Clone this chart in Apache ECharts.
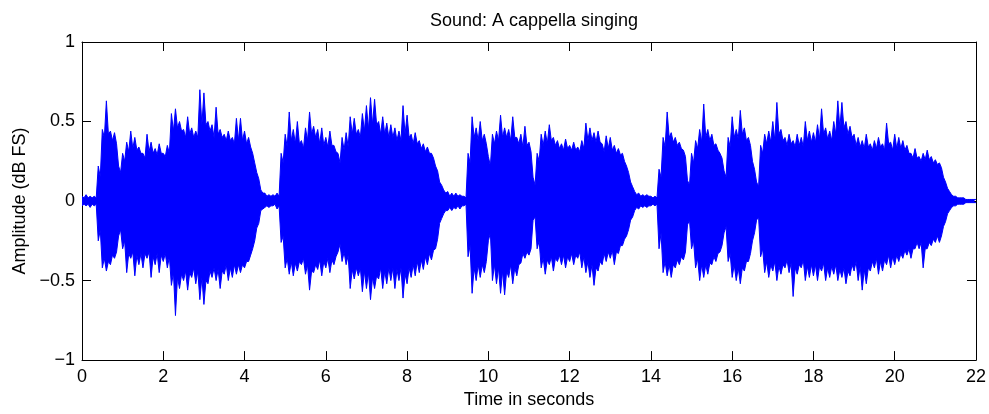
<!DOCTYPE html>
<html><head><meta charset="utf-8">
<script src="https://cdn.jsdelivr.net/npm/echarts@6/dist/echarts.min.js"></script>
<style>html,body{margin:0;padding:0;background:#fff}#c{width:989px;height:414px}</style>
</head><body><div id="c"></div>
<script>
const TITLE = 'Sound: A cappella singing';
const X_NAME = 'Time in seconds';
const Y_NAME = 'Amplitude (dB FS)';
const X_RANGE = [0, 22];
const X_TICK_STEP = 2;
const Y_RANGE = [-1, 1];
const Y_TICK_STEP = 0.5;
const T_START = 0;
const T_STEP = 0.1;
// spike tops (positive side), one value every 0.1 s
const peakUpper = [
.03,.04,.03,.03,.22,.45,.63,.44,.43,.22,
.30,.37,.44,.40,.34,.30,.42,.37,.33,.36,
.30,.35,.55,.58,.50,.45,.53,.46,.44,.70,
.68,.50,.48,.59,.45,.42,.44,.40,.52,.52,
.44,.40,.30,.18,.07,.05,.04,.04,.05,.30,
.42,.56,.45,.50,.38,.46,.56,.47,.45,.46,
.40,.44,.35,.30,.40,.43,.53,.52,.45,.55,
.60,.65,.64,.50,.53,.49,.48,.46,.44,.60,
.54,.42,.43,.38,.36,.34,.30,.22,.12,.07,
.06,.05,.05,.04,.03,.30,.53,.46,.50,.42,
.28,.42,.44,.54,.46,.45,.53,.40,.42,.47,
.37,.15,.30,.42,.44,.48,.40,.38,.36,.39,
.35,.37,.34,.38,.49,.46,.43,.44,.36,.41,
.40,.35,.33,.30,.22,.12,.06,.05,.04,.04,
.03,.03,.20,.40,.56,.43,.40,.37,.32,.13,
.30,.38,.45,.61,.45,.42,.36,.30,.19,.40,
.53,.45,.57,.46,.40,.25,.12,.35,.42,.44,
.50,.62,.45,.40,.42,.38,.42,.40,.50,.44,
.43,.48,.58,.46,.44,.50,.63,.62,.50,.47,
.42,.40,.38,.42,.36,.38,.40,.36,.49,.37,
.42,.40,.38,.35,.30,.33,.28,.30,.32,.28,
.26,.24,.15,.08,.04,.03,.02,.02,.01,.01,
.01
];
// dense part of the signal (positive side), one value every 0.1 s
const coreUpper = [
.02,.02,.02,.02,.15,.40,.42,.38,.36,.18,
.25,.31,.33,.32,.30,.27,.31,.30,.29,.30,
.28,.30,.44,.46,.44,.40,.42,.40,.40,.48,
.48,.44,.40,.42,.40,.38,.38,.36,.38,.38,
.36,.34,.24,.14,.05,.03,.03,.03,.03,.24,
.34,.38,.36,.36,.33,.38,.42,.40,.36,.35,
.34,.35,.31,.24,.32,.34,.42,.42,.40,.44,
.45,.48,.48,.42,.42,.40,.40,.38,.38,.42,
.40,.36,.36,.33,.31,.30,.27,.19,.10,.05,
.03,.03,.03,.03,.02,.24,.40,.38,.38,.36,
.22,.36,.38,.40,.40,.38,.40,.36,.34,.35,
.31,.10,.25,.35,.36,.38,.35,.33,.32,.33,
.32,.32,.31,.33,.38,.38,.37,.37,.31,.33,
.32,.30,.29,.25,.18,.09,.04,.03,.03,.03,
.02,.02,.15,.34,.40,.37,.35,.33,.28,.10,
.24,.33,.37,.40,.38,.35,.32,.27,.15,.34,
.40,.39,.42,.38,.35,.20,.09,.30,.36,.37,
.38,.42,.38,.35,.36,.34,.35,.34,.38,.37,
.37,.39,.42,.39,.38,.42,.46,.46,.42,.40,
.35,.34,.33,.34,.32,.33,.34,.32,.36,.32,
.33,.33,.32,.30,.27,.27,.25,.26,.26,.24,
.23,.21,.12,.06,.03,.02,.02,.01,.01,.01,
.01
];
// spike bottoms (negative side), one value every 0.1 s
const peakLower = [
-.03,-.03,-.04,-.03,-.25,-.42,-.44,-.40,-.36,-.22,
-.30,-.45,-.36,-.47,-.40,-.42,-.36,-.48,-.40,-.45,
-.38,-.42,-.53,-.72,-.55,-.50,-.56,-.48,-.52,-.62,
-.65,-.52,-.48,-.50,-.55,-.46,-.50,-.48,-.46,-.45,
-.42,-.38,-.30,-.17,-.06,-.04,-.04,-.03,-.05,-.26,
-.42,-.46,-.47,-.44,-.40,-.46,-.56,-.45,-.43,-.47,
-.42,-.45,-.40,-.32,-.38,-.40,-.55,-.49,-.47,-.57,
-.55,-.62,-.55,-.49,-.55,-.52,-.50,-.55,-.50,-.61,
-.52,-.48,-.47,-.45,-.43,-.40,-.37,-.30,-.14,-.08,
-.06,-.06,-.05,-.05,-.03,-.35,-.58,-.50,-.48,-.45,
-.25,-.50,-.52,-.58,-.59,-.48,-.52,-.47,-.39,-.36,
-.34,-.12,-.30,-.42,-.46,-.40,-.44,-.38,-.40,-.42,
-.38,-.40,-.36,-.42,-.45,-.48,-.53,-.44,-.40,-.38,
-.36,-.40,-.33,-.28,-.22,-.12,-.06,-.05,-.04,-.04,
-.03,-.03,-.30,-.45,-.47,-.48,-.42,-.40,-.37,-.15,
-.30,-.42,-.50,-.48,-.46,-.40,-.38,-.32,-.20,-.38,
-.48,-.50,-.52,-.44,-.38,-.25,-.12,-.35,-.45,-.48,
-.44,-.50,-.46,-.42,-.45,-.60,-.46,-.42,-.50,-.48,
-.47,-.50,-.44,-.50,-.48,-.46,-.50,-.48,-.52,-.47,
-.44,-.50,-.56,-.52,-.44,-.42,-.46,-.44,-.40,-.42,
-.40,-.38,-.36,-.34,-.36,-.30,-.30,-.42,-.30,-.28,
-.26,-.26,-.16,-.08,-.04,-.03,-.02,-.02,-.01,-.01,
-.01
];
// dense part of the signal (negative side), one value every 0.1 s
const coreLower = [
-.02,-.02,-.02,-.02,-.18,-.36,-.38,-.34,-.32,-.18,
-.25,-.33,-.32,-.34,-.33,-.33,-.32,-.35,-.33,-.34,
-.33,-.35,-.45,-.48,-.46,-.44,-.45,-.42,-.44,-.48,
-.50,-.44,-.42,-.43,-.44,-.40,-.42,-.40,-.40,-.40,
-.38,-.34,-.25,-.14,-.05,-.03,-.03,-.02,-.03,-.22,
-.36,-.38,-.39,-.38,-.36,-.40,-.44,-.40,-.37,-.38,
-.36,-.37,-.35,-.27,-.32,-.34,-.43,-.42,-.42,-.44,
-.45,-.48,-.47,-.42,-.44,-.42,-.42,-.43,-.42,-.46,
-.42,-.40,-.38,-.37,-.35,-.33,-.31,-.24,-.11,-.06,
-.04,-.04,-.03,-.03,-.02,-.28,-.42,-.40,-.40,-.38,
-.20,-.40,-.42,-.44,-.44,-.40,-.42,-.40,-.33,-.32,
-.30,-.10,-.25,-.36,-.37,-.35,-.36,-.34,-.34,-.35,
-.33,-.34,-.32,-.35,-.38,-.40,-.42,-.38,-.33,-.32,
-.31,-.32,-.28,-.24,-.18,-.10,-.04,-.03,-.03,-.03,
-.02,-.02,-.20,-.38,-.40,-.40,-.37,-.35,-.32,-.12,
-.25,-.36,-.40,-.40,-.39,-.35,-.33,-.28,-.16,-.33,
-.40,-.42,-.42,-.38,-.33,-.20,-.10,-.30,-.38,-.40,
-.38,-.41,-.40,-.37,-.39,-.42,-.40,-.37,-.41,-.40,
-.40,-.41,-.39,-.42,-.41,-.40,-.43,-.42,-.44,-.40,
-.38,-.41,-.43,-.42,-.38,-.36,-.38,-.37,-.34,-.35,
-.34,-.33,-.31,-.30,-.30,-.26,-.26,-.30,-.26,-.24,
-.22,-.22,-.13,-.06,-.03,-.02,-.02,-.01,-.01,-.01,
-.01
];

const FONT = 'Liberation Sans, Arial, Helvetica, sans-serif';
const FS = 18;
const BLUE = '#0000ff';
const timeOf = i => T_START + i * T_STEP;
// each 0.1 s slot: spike at the slot start, dense level half a slot later
function sawData(peaks, cores) {
  const out = [];
  peaks.forEach((p, i) => {
    const t = timeOf(i);
    out.push([+t.toFixed(3), p]);
    if (i < peaks.length - 1) out.push([+(t + T_STEP / 2).toFixed(3), cores[i]]);
  });
  return out;
}
const upperData = sawData(peakUpper, coreUpper);
const lowerData = sawData(peakLower, coreLower);
const fmt = v => String(v).replace('-', '\u2212');

const tickStyle = {show: true, inside: true, length: 9, lineStyle: {color: '#000', width: 1}};
const lineStyle = {show: true, onZero: false, lineStyle: {color: '#000', width: 1}};
const labelStyle = {color: '#000', fontSize: FS, fontFamily: FONT};

const chart = echarts.init(document.getElementById('c'), null, {renderer: 'canvas'});
chart.setOption({
  animation: false,
  backgroundColor: '#fff',
  title: {text: TITLE, left: 529, textAlign: 'center', top: 7,
    textStyle: {fontSize: FS, fontWeight: 'normal', color: '#000', fontFamily: FONT}},
  grid: {left: 82, right: 13, top: 42, bottom: 45, containLabel: false},
  xAxis: [
    {type: 'value', min: X_RANGE[0], max: X_RANGE[1], interval: X_TICK_STEP, position: 'bottom',
     name: X_NAME, nameLocation: 'middle', nameGap: 27,
     nameTextStyle: {color: '#000', fontSize: FS, fontFamily: FONT},
     axisLine: lineStyle, axisTick: tickStyle, splitLine: {show: false},
     axisLabel: Object.assign({margin: 8, formatter: fmt}, labelStyle)},
    {type: 'value', min: X_RANGE[0], max: X_RANGE[1], interval: X_TICK_STEP, position: 'top',
     axisLine: lineStyle, axisTick: tickStyle, splitLine: {show: false}, axisLabel: {show: false}}
  ],
  yAxis: [
    {type: 'value', min: Y_RANGE[0], max: Y_RANGE[1], interval: Y_TICK_STEP, position: 'left',
     name: Y_NAME, nameLocation: 'middle', nameGap: 53, nameRotate: 90,
     nameTextStyle: {color: '#000', fontSize: FS, fontFamily: FONT},
     axisLine: lineStyle, axisTick: tickStyle, splitLine: {show: false},
     axisLabel: Object.assign({margin: 7, formatter: fmt}, labelStyle)},
    {type: 'value', min: Y_RANGE[0], max: Y_RANGE[1], interval: Y_TICK_STEP, position: 'right',
     axisLine: lineStyle, axisTick: tickStyle, splitLine: {show: false}, axisLabel: {show: false}}
  ],
  series: [
    {type: 'line', data: upperData, showSymbol: false, symbol: 'none', sampling: 'none',
     lineStyle: {color: BLUE, width: 1}, areaStyle: {color: BLUE, opacity: 1, origin: 0}, z: 1},
    {type: 'line', data: lowerData, showSymbol: false, symbol: 'none', sampling: 'none',
     lineStyle: {color: BLUE, width: 1}, areaStyle: {color: BLUE, opacity: 1, origin: 0}, z: 1}
  ]
});
</script></body></html>
